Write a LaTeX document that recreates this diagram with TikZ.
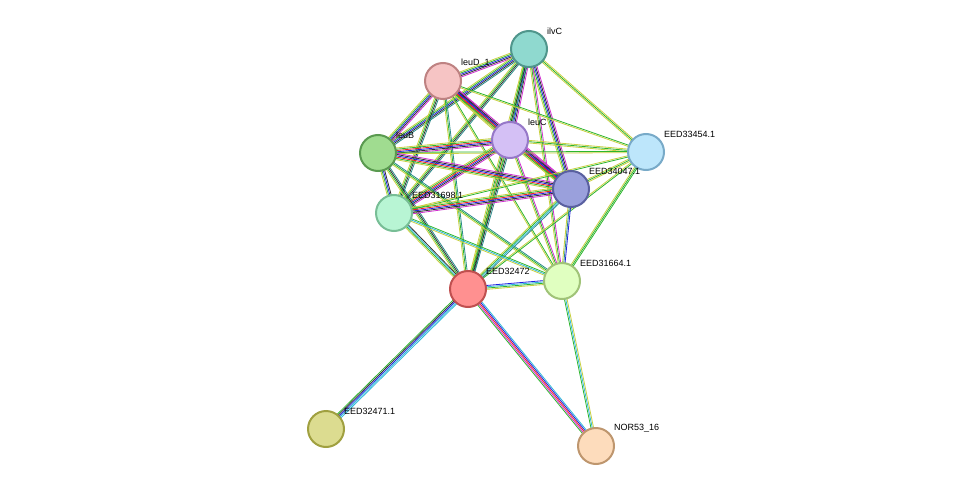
\documentclass[tikz,border=0pt]{standalone}
\usepackage{fontspec}
\setmainfont{Liberation Sans}
\usetikzlibrary{calc}
\definecolor{sg}{HTML}{2DB52D}
\definecolor{sb}{HTML}{2020E0}
\definecolor{sr}{HTML}{F02020}
\definecolor{sm}{HTML}{D030D0}
\definecolor{sy}{HTML}{C8D040}
\definecolor{sk}{HTML}{303030}
\definecolor{sc}{HTML}{30B8D8}
\definecolor{st}{HTML}{2A8A8A}
\newcommand\ed[4]{%
 \foreach \c [count=\i] in {#4}{\pgfmathsetmacro\o{(\i-(#3+1)/2)*1.3}
 \draw[\c,line width=0.8pt] ($(#1)!\o pt!90:(#2)$) -- ($(#2)!\o pt!-90:(#1)$);}}
\tikzset{prot/.style={circle,minimum size=36pt,line width=2pt,inner sep=0pt},
 lab/.style={anchor=south west,font=\fontsize{9}{10}\selectfont,inner sep=0pt}}
\begin{document}
\begin{tikzpicture}[x=1pt,y=-1pt]
\useasboundingbox (0,0) rectangle (976,492);
\coordinate (ilvC) at (529,49);
\coordinate (leuD) at (443,81);
\coordinate (leuC) at (510,140);
\coordinate (leuB) at (378,153);
\coordinate (e54) at (646,152);
\coordinate (e47) at (571,189);
\coordinate (e98) at (394,213);
\coordinate (e72) at (468,289);
\coordinate (e64) at (562,281);
\coordinate (e71) at (326,429);
\coordinate (nor) at (596,446);
% edges
\ed{ilvC}{leuD}{5}{sy,sg,sb,sk,sm}
\ed{ilvC}{leuC}{5}{sy,sg,sb,sk,sm}
\ed{ilvC}{leuB}{5}{sy,sg,sb,sk,st}
\ed{ilvC}{e54}{3}{sy,sg,sy}
\ed{ilvC}{e47}{5}{sy,sg,sb,sk,sm}
\ed{ilvC}{e98}{4}{sy,sg,sk,st}
\ed{ilvC}{e72}{4}{sy,sg,sk,st}
\ed{ilvC}{e64}{3}{sy,sg,sm}
\ed{leuD}{leuC}{6}{sy,sg,sr,sb,sk,sm}
\ed{leuD}{leuB}{5}{sy,sg,sb,sk,sm}
\ed{leuD}{e54}{2}{sy,sg}
\ed{leuD}{e47}{6}{sy,sg,sr,sb,sk,sm}
\ed{leuD}{e98}{4}{sy,sg,sk,st}
\ed{leuD}{e72}{3}{sy,sg,st}
\ed{leuD}{e64}{2}{sy,sg}
\ed{leuC}{leuB}{6}{sy,sg,sr,sb,sk,sm}
\ed{leuC}{e54}{3}{sy,sg,sy}
\ed{leuC}{e47}{6}{sy,sg,sr,sb,sk,sm}
\ed{leuC}{e98}{6}{sy,sg,sr,sb,sk,sm}
\ed{leuC}{e72}{4}{sy,sg,sk,st}
\ed{leuC}{e64}{3}{sy,sg,sm}
\ed{leuB}{e54}{2}{sy,sg}
\ed{leuB}{e47}{6}{sy,sg,sr,sb,sk,sm}
\ed{leuB}{e98}{4}{sy,sg,sb,sk}
\ed{leuB}{e72}{4}{sy,sg,sk,st}
\ed{leuB}{e64}{3}{sy,sg,st}
\ed{e54}{e47}{3}{sy,sg,sy}
\ed{e54}{e72}{2}{sy,sg}
\ed{e54}{e64}{3}{sy,sg,sg}
\ed{e54}{e98}{2}{sy,sg}
\ed{e47}{e98}{6}{sy,sg,sr,sb,sk,sm}
\ed{e47}{e72}{4}{sy,sg,sc,st}
\ed{e47}{e64}{3}{sy,st,sb}
\ed{e98}{e72}{4}{sy,sg,sc,sk}
\ed{e98}{e64}{3}{sy,sc,sg}
\ed{e72}{e64}{4}{sy,sg,sc,sb}
\ed{e72}{e71}{5}{sg,sk,sb,sc,sc}
\ed{e72}{nor}{5}{sg,sm,sr,sb,sc}
\ed{e64}{nor}{3}{sg,sc,sy}
% nodes
\node[prot,fill={rgb,255:red,143;green,217;blue,207},draw={rgb,255:red,80;green,150;blue,140}] (n1) at (ilvC) {};
\node[prot,fill={rgb,255:red,246;green,196;blue,196},draw={rgb,255:red,190;green,130;blue,130}] (n2) at (leuD) {};
\node[prot,fill={rgb,255:red,212;green,192;blue,245},draw={rgb,255:red,150;green,120;blue,200}] (n3) at (leuC) {};
\node[prot,fill={rgb,255:red,160;green,220;blue,144},draw={rgb,255:red,90;green,154;blue,80}] (n4) at (leuB) {};
\node[prot,fill={rgb,255:red,189;green,230;blue,251},draw={rgb,255:red,120;green,170;blue,200}] (n5) at (e54) {};
\node[prot,fill={rgb,255:red,154;green,160;blue,220},draw={rgb,255:red,90;green,96;blue,160}] (n6) at (e47) {};
\node[prot,fill={rgb,255:red,184;green,245;blue,212},draw={rgb,255:red,120;green,190;blue,150}] (n7) at (e98) {};
\node[prot,fill={rgb,255:red,255;green,144;blue,144},draw={rgb,255:red,192;green,80;blue,80}] (n8) at (e72) {};
\node[prot,fill={rgb,255:red,224;green,255;blue,192},draw={rgb,255:red,160;green,195;blue,120}] (n9) at (e64) {};
\node[prot,fill={rgb,255:red,220;green,220;blue,144},draw={rgb,255:red,160;green,160;blue,64}] (n10) at (e71) {};
\node[prot,fill={rgb,255:red,253;green,220;blue,188},draw={rgb,255:red,190;green,150;blue,110}] (n11) at (nor) {};
% labels
\node[lab] at ($(ilvC)+(18,-14)$) {ilvC};
\node[lab] at ($(leuD)+(18,-14)$) {leuD\_1};
\node[lab] at ($(leuC)+(18,-14)$) {leuC};
\node[lab] at ($(leuB)+(18,-14)$) {leuB};
\node[lab] at ($(e54)+(18,-14)$) {EED33454.1};
\node[lab] at ($(e47)+(18,-14)$) {EED34047.1};
\node[lab] at ($(e98)+(18,-14)$) {EED31698.1};
\node[lab] at ($(e72)+(18,-14)$) {EED32472};
\node[lab] at ($(e64)+(18,-14)$) {EED31664.1};
\node[lab] at ($(e71)+(18,-14)$) {EED32471.1};
\node[lab] at ($(nor)+(18,-14)$) {NOR53\_16};
\end{tikzpicture}
\end{document}
